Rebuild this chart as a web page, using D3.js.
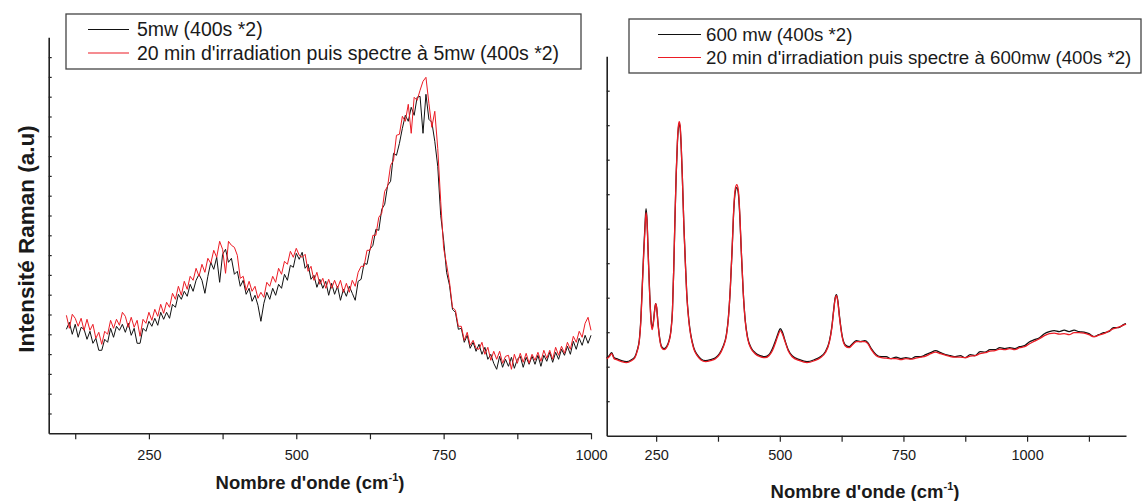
<!DOCTYPE html>
<html lang="en">
<meta charset="utf-8">
<title>Spectres Raman</title>
<head>
<style>
  body { margin: 0; background: #fff; }
  text { font-family: "Liberation Sans", Arial, sans-serif; fill: #1a1a1a; }
</style>
</head>
<body>
<script src="https://d3js.org/d3.v7.min.js"></script>
<div id="chart"></div>
<script>
// ---- left panel : 5 mW ----
var leftWavenumbers = [
  110,115,120,125,130,135,140,145,150,155,
  160,165,170,175,180,185,190,195,200,205,
  210,215,220,225,230,235,240,245,250,255,
  260,265,270,275,280,285,290,295,300,305,
  310,315,320,325,330,335,340,345,350,355,
  360,365,370,375,380,385,390,395,400,405,
  410,415,420,425,430,435,440,445,450,455,
  460,465,470,475,480,485,490,495,500,505,
  510,515,520,525,530,535,540,545,550,555,
  560,565,570,575,580,585,590,595,600,605,
  610,615,620,625,630,635,640,645,650,655,
  660,665,670,675,680,685,690,695,700,705,
  710,715,720,725,730,735,740,745,750,755,
  760,765,770,775,780,785,790,795,800,805,
  810,815,820,825,830,835,840,845,850,855,
  860,865,870,875,880,885,890,895,900,905,
  910,915,920,925,930,935,940,945,950,955,
  960,965,970,975,980,985,990,995,1000];
var left5mw = [
  104,111,99,109,96,106,104,94,102,90,
  95,83,83,94,91,105,96,107,103,109,
  101,110,98,105,90,90,105,102,112,107,
  115,108,121,114,121,115,129,126,139,134,
  142,137,149,142,153,159,153,140,157,171,
  164,176,151,179,184,171,175,159,162,147,
  153,139,145,132,138,128,112,130,141,134,
  145,138,149,145,159,153,168,166,180,174,
  181,165,169,154,158,146,154,145,152,138,
  150,139,147,133,144,137,147,140,133,152,
  154,170,169,184,188,204,203,224,229,248,
  252,280,278,290,305,318,312,326,318,336,
  337,300,339,314,311,292,267,218,193,161,
  148,124,121,104,105,91,98,85,91,82,
  89,79,86,74,79,70,64,77,66,74,
  67,76,65,74,77,66,76,69,77,69,
  78,67,78,72,81,71,81,74,84,78,
  87,79,92,84,95,88,98,90,98];
var left5mwIrradie = [
  118,105,119,115,107,115,103,114,103,109,
  95,101,89,102,99,113,105,114,108,121,
  117,106,116,106,113,97,114,110,121,113,
  124,117,129,120,131,126,140,134,147,138,
  152,144,157,153,165,157,169,161,175,170,
  183,176,192,184,160,192,188,186,178,155,
  157,143,152,142,147,135,141,136,151,147,
  157,151,165,159,172,169,182,176,185,178,
  176,179,162,167,153,161,149,155,145,154,
  145,153,145,153,141,150,141,153,147,161,
  167,167,183,183,198,198,216,220,242,247,
  268,273,298,299,317,312,329,300,336,333,
  343,352,356,330,306,322,285,232,185,169,
  151,126,123,107,107,93,101,88,93,85,
  84,91,79,86,73,82,74,82,70,77,
  78,64,79,70,80,71,80,70,79,73,
  81,72,83,75,83,74,86,78,87,80,
  91,84,97,91,102,96,110,116,103];

// ---- right panel : 600 mW ----
var rightWavenumbers = [
  150,155,160,165,170,180,190,200,207,212,
  216,219,222,225,227.5,229.5,231.5,234,237,240,
  242,244.5,247,249,251,253.5,257,261,266,271,
  276,280,283,285.5,288,290.5,293,295,296.7,298.5,
  300.5,303,306,309,312,316,320,326,333,340,
  350,360,370,378,385,392,396,400,404,407,
  410,413,416,419,422,426,430,435,442,450,
  460,470,478,485,492,497,501,505,510,517,
  525,540,555,570,582,592,600,605,609,612,
  614.5,617,621,626,632,640,647,655,663,672,
  678,685,695,
  705,715,725,735,745,755,765,775,785,795,
  805,815,825,835,845,855,865,875,885,895,
  905,915,925,935,945,955,965,975,985,995,
  1005,1015,1025,1035,1045,1055,1065,1075,1085,1095,
  1105,1115,1125,1135,1145,1155,1165,1175,1185,1195,
  1200];
var right600mw = [
  78,80,83,78,77,75,74,76,79,86,
  96,116,151,186,211,227,216,181,141,114,
  108,114,126,132,128,114,98,89,87,89,
  95,106,126,166,216,261,293,308,312,308,
  291,258,211,174,141,116,101,88,81,77,
  75,76,78,82,89,101,118,148,191,226,
  244,248,243,221,186,144,116,98,88,83,
  80,79,81,87,96,103,107,104,96,86,
  80,76,74,76,79,84,94,108,126,138,
  141,136,118,100,91,89,92,95,94,95,
  93,87,81,
  79,79,77,78.5,77,78,77,79,79,81,
  83,85,83,81,80,79,80,78,81,80,
  84,83.5,86,86,88,87,88,87,89,90,
  94,96,98,102,104,105,104,105.5,104,105.5,
  104,103.5,102,99,101,103,104,108,108,111,
  112];
var right600mwIrradie = [
  77,79,82,77,76,74,73,75,78,85,
  95,114,149,183,208,223,214,180,140,112,
  106,113,125,132,128,113,97,88,86,88,
  94,105,125,166,217,262,295,310,314,310,
  292,258,210,173,140,115,100,87,80,76,
  74,75,77,81,88,100,117,148,192,228,
  247,251,246,223,187,144,115,97,87,82,
  79,78,80,85,94,101,105,102,95,85,
  79,75,73,75,78,83,93,107,125,137,
  140,135,117,99,90,88,91,94,94,94,
  92,86,80,
  78,77.5,77,77,76,77,76.5,77.5,78.5,79.5,
  82,83.5,82,80.5,79,78.5,78.5,78,79.5,80,
  82,83,84.5,85,86.5,86,87,86,88,89,
  92,94.5,97,100,102,102.5,101.5,102,101,103,
  103,102.5,101,99,100.5,102,104.5,107,108.5,110.5,
  111.5];

// ticks and legend text
var leftMajorTicks = [250, 500, 750, 1000];
var leftMinorTicks = [125, 375, 625, 875];
var rightMajorTicks = [250, 500, 750, 1000];
var rightMinorTicks = [375, 625, 875, 1125];
var leftLegend = ["5mw (400s *2)", "20 min d'irradiation puis spectre à 5mw (400s *2)"];
var rightLegend = ["600 mw (400s *2)", "20 min d'irradiation puis spectre à 600mw (400s *2)"];
var colors = ["#111", "#ec1b24"];

var svg = d3.select("#chart").append("svg")
  .attr("width", 1143)
  .attr("height", 501);

function panel(opt) {
  var x = d3.scaleLinear().domain(opt.xDomain).range(opt.xRange);
  var y = d3.scaleLinear().domain(opt.yDomain).range(opt.yRange);
  var g = svg.append("g");

  // y axis, ticks pointing inside, no labels
  var yAxis = g.append("g")
    .attr("transform", "translate(" + opt.xRange[0] + ",0)")
    .call(d3.axisRight(y).tickValues(opt.yTicks).tickSize(opt.yTickSize).tickSizeOuter(0).tickFormat(""));
  yAxis.select(".domain").attr("stroke", "#222").attr("stroke-width", 1.6);
  yAxis.selectAll(".tick line").attr("stroke", "#222").attr("stroke-width", 1.2);

  // x axis
  var allTicks = opt.major.concat(opt.minor).sort(d3.ascending);
  var xAxis = g.append("g")
    .attr("transform", "translate(0," + opt.yRange[0] + ")")
    .call(d3.axisBottom(x).tickValues(allTicks).tickSize(6).tickSizeOuter(0)
      .tickFormat(function (d) { return opt.major.indexOf(d) >= 0 ? d : ""; }));
  xAxis.select(".domain").attr("stroke", "#222").attr("stroke-width", 1.6);
  xAxis.selectAll(".tick line").attr("stroke", "#222").attr("stroke-width", 1.2);
  xAxis.selectAll(".tick text")
    .attr("y", opt.labelY)
    .style("font-family", "'Liberation Sans', Arial, sans-serif")
    .style("font-size", "14.5px")
    .attr("fill", "#1a1a1a");

  // spectra
  var line = d3.line()
    .curve(opt.curve)
    .x(function (d) { return x(d[0]); })
    .y(function (d) { return y(d[1]); });
  opt.series.forEach(function (s, i) {
    g.append("path")
      .datum(opt.wave.map(function (w, k) { return [w, s[k]]; }))
      .attr("fill", "none")
      .attr("stroke", colors[i])
      .attr("stroke-width", opt.lineWidth)
      .attr("stroke-linejoin", "round")
      .attr("d", line);
  });

  // x title with superscript
  var t = g.append("text")
    .attr("x", opt.titleX)
    .attr("y", opt.titleY)
    .attr("text-anchor", "middle")
    .style("font-size", "18.5px")
    .style("font-weight", "bold");
  t.append("tspan").text("Nombre d'onde (cm");
  t.append("tspan").attr("dy", -8).style("font-size", "11px").text("-1");
  t.append("tspan").attr("dy", 8).text(")");

  // legend
  var lg = g.append("g");
  lg.append("rect")
    .attr("x", opt.legend.x).attr("y", opt.legend.y)
    .attr("width", opt.legend.w).attr("height", opt.legend.h)
    .attr("fill", "#fff").attr("stroke", "#444").attr("stroke-width", 1.3);
  opt.legend.labels.forEach(function (lab, i) {
    var ly = opt.legend.rowY[i];
    lg.append("line")
      .attr("x1", opt.legend.lx1).attr("x2", opt.legend.lx2)
      .attr("y1", ly).attr("y2", ly)
      .attr("stroke", colors[i]).attr("stroke-width", 1.2);
    lg.append("text")
      .attr("x", opt.legend.tx).attr("y", ly + 6.5)
      .style("font-size", opt.legend.size)
      .text(lab);
  });
}

panel({
  xDomain: [80, 1000], xRange: [48.7, 591],
  yDomain: [0, 396], yRange: [433.3, 37.3],
  yTicks: d3.range(19.8, 396, 19.8), yTickSize: 3,
  major: leftMajorTicks, minor: leftMinorTicks, labelY: 16,
  wave: leftWavenumbers, series: [left5mw, left5mwIrradie],
  curve: d3.curveLinear, lineWidth: 1,
  titleX: 310, titleY: 489,
  legend: { x: 66, y: 14, w: 515, h: 55, lx1: 88, lx2: 129, tx: 137, rowY: [29.5, 53], size: "19.5px", labels: leftLegend }
});

panel({
  xDomain: [150, 1200], xRange: [606.7, 1126],
  yDomain: [0, 379.5], yRange: [435.7, 56.2],
  yTicks: d3.range(34.5, 379, 34.5), yTickSize: 3,
  major: rightMajorTicks, minor: rightMinorTicks, labelY: 14,
  wave: rightWavenumbers, series: [right600mw, right600mwIrradie],
  curve: d3.curveMonotoneX, lineWidth: 1.3,
  titleX: 865, titleY: 498,
  legend: { x: 629, y: 19, w: 512, h: 54, lx1: 658, lx2: 701, tx: 706, rowY: [34.5, 57.5], size: "18.7px", labels: rightLegend }
});

// y axis title
svg.append("text")
  .attr("transform", "translate(34,239) rotate(-90)")
  .attr("text-anchor", "middle")
  .style("font-size", "22.5px")
  .style("font-weight", "bold")
  .text("Intensité Raman (a.u)");
</script>
</body>
</html>
